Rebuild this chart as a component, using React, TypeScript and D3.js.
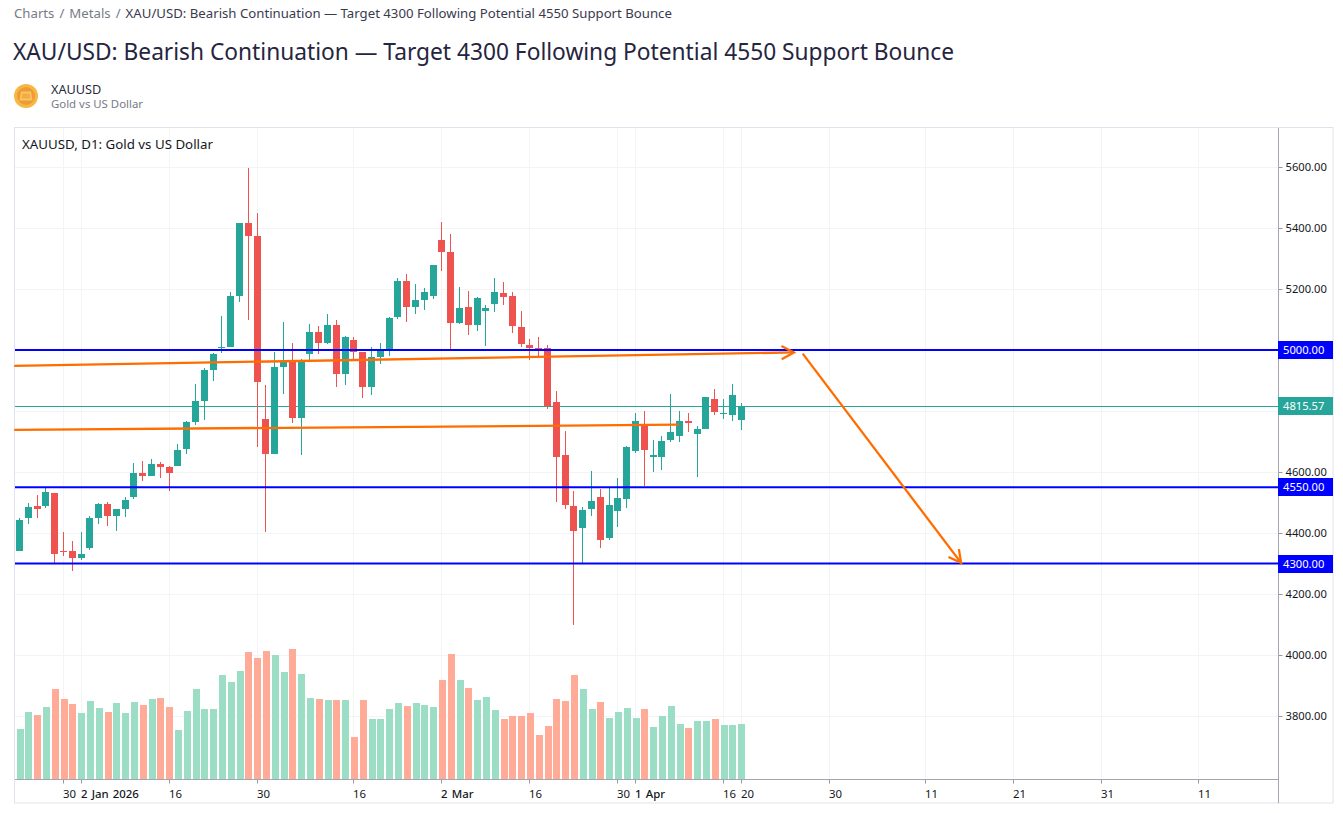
import React, { useEffect, useRef } from "react";
import * as d3 from "d3";

const W = 1343;
const H = 813;

// daily candles
const opens = [4342,4449,4489,4489,4531,4341,4341,4318,4351,4449,4495,4456,4479,4518,4597,4587,4626,4616,4620,4675,4764,4833,4934,5007,5010,5177,5416,5374,4774,4659,4944,4961,4777,4987,5059,5023,5082,4921,5033,4993,4879,4977,5000,5108,5226,5141,5164,5177,5361,5321,5089,5141,5082,5128,5151,5187,5177,5075,5016,5007,5007,4830,4656,4489,4416,4479,4518,4384,4472,4511,4669,4757,4649,4649,4705,4718,4767,4725,4741,4839,4790,4787,4770];
const highs = [4449,4498,4525,4552,4531,4403,4374,4403,4456,4498,4502,4479,4518,4629,4636,4643,4633,4620,4692,4767,4888,4941,4990,5111,5190,5416,5597,5449,4885,4993,5092,5023,4970,5085,5079,5118,5098,5046,5043,4993,5010,5023,5108,5236,5249,5216,5203,5279,5420,5380,5207,5193,5174,5148,5236,5223,5190,5128,5036,5043,5016,4866,4734,4538,4485,4603,4544,4548,4580,4685,4793,4800,4705,4718,4856,4800,4793,4751,4846,4872,4839,4889,4826];
const lows = [4342,4430,4449,4482,4303,4325,4275,4311,4344,4430,4423,4407,4452,4511,4570,4587,4580,4538,4620,4659,4754,4770,4898,4991,5010,5157,5098,4683,4403,4659,4856,4761,4656,4961,4987,5020,4879,4885,4967,4843,4852,4954,4980,5102,5092,5118,5131,5167,5259,5000,5085,5049,5062,5013,5125,5148,5056,5010,4967,4977,4807,4502,4479,4098,4303,4456,4351,4377,4420,4482,4662,4554,4600,4607,4698,4698,4731,4584,4741,4787,4774,4767,4738];
const closes = [4443,4485,4479,4534,4331,4338,4318,4331,4449,4495,4456,4479,4508,4597,4587,4626,4616,4597,4672,4764,4833,4934,4987,5010,5177,5416,5374,4895,4659,4944,4961,4777,4961,5059,5023,5082,4921,5043,4993,4879,4977,5000,5105,5226,5141,5164,5190,5279,5321,5089,5138,5082,5170,5138,5190,5174,5079,5020,5007,5003,4816,4649,4492,4407,4475,4505,4377,4492,4515,4682,4767,4672,4656,4702,4731,4767,4761,4741,4846,4797,4793,4852,4815.57];
const volumes = [150,201,192,216,270,240,225,198,234,213,201,228,198,231,222,240,243,216,147,204,270,210,210,312,291,324,381,363,384,372,321,390,315,243,240,237,237,237,126,237,180,180,210,228,219,228,222,216,297,375,297,273,237,246,207,180,189,189,198,132,159,240,234,312,270,210,231,183,201,213,183,210,156,189,219,165,153,174,174,180,162,162,165];

const priceTicks = [5600,5400,5200,5000,4800,4600,4400,4200,4000,3800];
// 5000 and 4800 have no label of their own, the price tags sit on them
const priceLabels = [5600,5400,5200,4600,4400,4200,4000,3800];
const levels = [5000,4550,4300];
const lastPrice = 4815.57;

// tick position as bar index (future bars continue past the last candle)
const timeIdx = [5,7,17,27,38,48,58,68,70,80,82,92,103,113,123,134];
const timeLabels = ["30","2 Jan 2026","16","30","16","2 Mar","16","30","1 Apr","16","20","30","11","21","31","11"];
const majorLabels = ["2 Jan 2026","2 Mar","1 Apr"];

// hand drawn trend lines: [bar index, price]
const upperLine = [[-0.6,4948],[88,4992]];
const lowerLine = [[-0.6,4738],[74.9,4755]];
const downArrow = [[89,4988],[107,4302]];

const FONT = "'Noto Sans', sans-serif";
const UP = "#26a69a";
const DOWN = "#ef5350";
const ORANGE = "#ff6d00";
const BLUE = "#0000ff";

export default function App() {
  const ref = useRef<SVGSVGElement>(null);

  useEffect(() => {
    if (!ref.current) return;
    const svg = d3.select(ref.current);
    svg.selectAll("*").remove();

    const left = 15, right = 1278, top = 128, bottom = 779, frameR = 1333, frameB = 803;

    const x = d3.scaleLinear().domain([0, 82]).range([19.5, 741.1]);
    const y = d3.scaleLinear().domain([3800, 5600]).range([716, 167]);
    const vol = d3.scaleLinear().domain([0, 400]).range([bottom, bottom - 133.3]);
    const snap = (i: number) => Math.round(x(i) - 0.5) + 0.5;

    // page header
    const crumb = svg.append("text").attr("x", 14).attr("y", 18).style("font", `13.2px ${FONT}`).attr("fill", "#787b86");
    crumb.append("tspan").style("word-spacing", "1.6px").text("Charts / Metals / ");
    crumb.append("tspan").attr("fill", "#3a3a4e").text("XAU/USD: Bearish Continuation — Target 4300 Following Potential 4550 Support Bounce");
    svg.append("text").attr("x", 13).attr("y", 60).style("font", `22.72px ${FONT}`).attr("fill", "#252540")
      .text("XAU/USD: Bearish Continuation — Target 4300 Following Potential 4550 Support Bounce");

    const icon = svg.append("g").attr("transform", "translate(26,96)");
    icon.append("circle").attr("r", 12).attr("fill", "#f5b942");
    icon.append("circle").attr("r", 9).attr("fill", "#ee9a38");
    icon.append("path").attr("d", "M-5,-4.5H5L6.5,4.5H-6.5Z").attr("fill", "#f8c65c");
    icon.append("path").attr("d", "M-3.5,-2.5H3.5L4.5,2.5H-4.5Z").attr("fill", "#f3ab47");
    svg.append("text").attr("x", 51).attr("y", 94).style("font", `12.7px ${FONT}`).attr("fill", "#2a2a3e").text("XAUUSD");
    svg.append("text").attr("x", 51).attr("y", 108).style("font", `11.4px ${FONT}`).attr("fill", "#787b86").text("Gold vs US Dollar");

    // frame
    svg.append("rect").attr("x", 14.5).attr("y", 127.5).attr("width", frameR - 14.5).attr("height", frameB - 127.5)
      .attr("fill", "#fff").attr("stroke", "#e0e3eb");

    // grid
    const grid = svg.append("g").attr("stroke", "#f3f4f6").attr("shape-rendering", "crispEdges");
    priceTicks.forEach((p) => {
      grid.append("line").attr("x1", left).attr("x2", right).attr("y1", Math.round(y(p)) + 0.5).attr("y2", Math.round(y(p)) + 0.5);
    });
    timeIdx.forEach((i) => {
      grid.append("line").attr("y1", top).attr("y2", bottom).attr("x1", snap(i)).attr("x2", snap(i));
    });

    // volume
    svg.append("g").selectAll("rect").data(volumes).enter().append("rect")
      .attr("x", (_, i) => Math.round(x(i) - 2.9))
      .attr("width", 7)
      .attr("y", (d) => vol(d))
      .attr("height", (d) => bottom - vol(d))
      .attr("fill", (_, i) => (closes[i] >= opens[i] ? "#9bdec5" : "#ffab98"))
      .attr("shape-rendering", "crispEdges");

    // last price line goes under the candles
    svg.append("line").attr("x1", left).attr("x2", right).attr("y1", y(lastPrice)).attr("y2", y(lastPrice))
      .attr("stroke", UP).attr("stroke-width", 1).attr("shape-rendering", "crispEdges");

    // candles
    const candles = svg.append("g").attr("shape-rendering", "crispEdges");
    opens.forEach((o, i) => {
      const c = closes[i];
      const col = c >= o ? UP : DOWN;
      candles.append("line").attr("x1", snap(i)).attr("x2", snap(i)).attr("y1", y(highs[i])).attr("y2", y(lows[i])).attr("stroke", col);
      const t = y(Math.max(o, c));
      const b = y(Math.min(o, c));
      candles.append("rect").attr("x", snap(i) - 3.5).attr("width", 7).attr("y", t).attr("height", Math.max(1, b - t)).attr("fill", col);
    });

    // horizontal levels
    levels.forEach((l) => {
      svg.append("line").attr("x1", left).attr("x2", right).attr("y1", y(l)).attr("y2", y(l))
        .attr("stroke", BLUE).attr("stroke-width", 2);
    });

    // drawings
    const line = d3.line<number[]>().x((d) => x(d[0])).y((d) => y(d[1]));
    const drawing = svg.append("g").attr("fill", "none").attr("stroke", ORANGE).attr("stroke-width", 2.3);
    drawing.append("path").attr("d", line(upperLine));
    drawing.append("path").attr("d", line(lowerLine));
    drawing.append("path").attr("d", line(downArrow));

    const arrowHead = (pts: number[][]) => {
      const x0 = x(pts[0][0]), y0 = y(pts[0][1]);
      const x1 = x(pts[1][0]), y1 = y(pts[1][1]);
      const a = Math.atan2(y0 - y1, x0 - x1);
      const len = 14, spread = (28 * Math.PI) / 180;
      const path = d3.path();
      path.moveTo(x1 + len * Math.cos(a - spread), y1 + len * Math.sin(a - spread));
      path.lineTo(x1, y1);
      path.lineTo(x1 + len * Math.cos(a + spread), y1 + len * Math.sin(a + spread));
      drawing.append("path").attr("d", path.toString());
    };
    arrowHead(upperLine);
    arrowHead(downArrow);

    // price axis
    const yAxis = svg.append("g").attr("transform", `translate(${right + 0.5},0)`)
      .call(d3.axisRight(y).tickValues(priceLabels).tickFormat(d3.format(".2f") as any).tickSize(4).tickPadding(3));
    yAxis.select(".domain").remove();
    yAxis.selectAll("line").attr("stroke", "#9598a1");
    yAxis.selectAll("text").style("font", `11.2px ${FONT}`).attr("fill", "#131722");
    svg.append("line").attr("x1", right + 0.5).attr("x2", right + 0.5).attr("y1", top).attr("y2", frameB).attr("stroke", "#a3a6af");

    // time axis
    const xAxis = svg.append("g").attr("transform", `translate(0,${bottom + 0.5})`)
      .call(d3.axisBottom(x).tickValues(timeIdx).tickFormat((_, i) => timeLabels[i]).tickSize(4).tickPadding(6));
    xAxis.select(".domain").remove();
    xAxis.selectAll(".tick").attr("transform", (d: any) => `translate(${snap(d)},0)`);
    xAxis.selectAll("line").attr("stroke", "#9598a1");
    xAxis.selectAll("text")
      .attr("text-anchor", "start")
      .attr("x", -0.5)
      .style("font", (_: any, i: number) => `${majorLabels.includes(timeLabels[i]) ? 500 : 400} 11.4px ${FONT}`)
      .style("word-spacing", (_: any, i: number) => (majorLabels.includes(timeLabels[i]) ? "1.2px" : "0"))
      .attr("fill", "#131722");
    svg.append("line").attr("x1", left).attr("x2", right).attr("y1", bottom + 0.5).attr("y2", bottom + 0.5).attr("stroke", "#a3a6af");

    // price tags
    const tag = (p: number, col: string) => {
      svg.append("rect").attr("x", right).attr("y", y(p) - 9).attr("width", frameR - right).attr("height", 18).attr("fill", col).attr("shape-rendering", "crispEdges");
      svg.append("text").attr("x", right + 5).attr("y", y(p) + 4).style("font", `11.2px ${FONT}`).attr("fill", "#fff").text(d3.format(".2f")(p));
    };
    levels.forEach((l) => tag(l, BLUE));
    tag(lastPrice, UP);

    svg.append("text").attr("x", 22).attr("y", 149).style("font", `13.3px ${FONT}`).attr("fill", "#131722")
      .text("XAUUSD, D1: Gold vs US Dollar");
  }, []);

  return (
    <svg ref={ref} width={W} height={H} style={{ position: "absolute", left: 0, top: 0, background: "#fff" }} />
  );
}
